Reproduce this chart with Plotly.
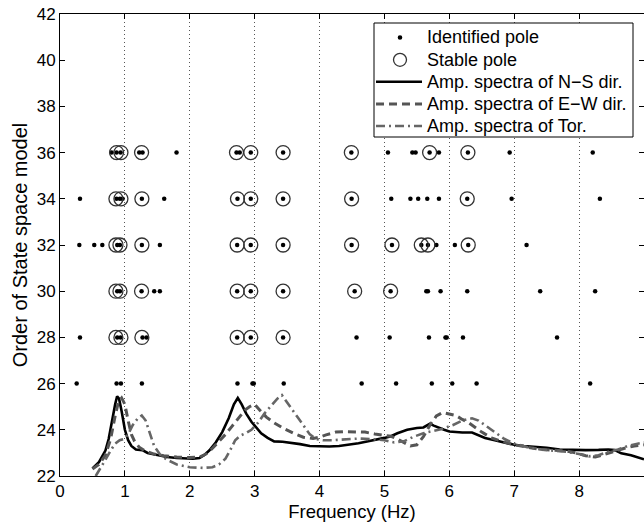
import plotly.graph_objects as go

# ---- Identified poles (frequency in Hz) per state-space model order ----
model_orders = [26, 28, 30, 32, 34, 36]

identified_26 = [0.257, 0.872, 0.939, 1.262, 2.735, 2.966, 2.986, 3.448, 4.649, 5.18, 5.73, 6.045, 6.42, 8.17]
identified_28 = [0.308, 0.882, 0.934, 1.272, 1.334, 2.73, 2.94, 3.438, 4.57, 5.08, 5.686, 5.94, 5.96, 6.21, 7.66]
identified_30 = [0.882, 0.924, 1.257, 1.452, 1.539, 2.73, 2.94, 3.438, 4.541, 5.095, 5.645, 5.67, 5.865, 6.276, 7.40, 8.247]
identified_32 = [0.298, 0.528, 0.652, 0.882, 0.924, 1.262, 1.539, 2.73, 2.94, 3.438, 4.494, 5.116, 5.568, 5.67, 5.80, 6.085, 6.291, 7.19]
identified_34 = [0.308, 0.872, 0.924, 0.965, 1.262, 1.606, 2.735, 2.94, 3.438, 4.494, 5.105, 5.40, 5.52, 5.66, 5.84, 6.276, 6.96, 8.32]
identified_36 = [0.795, 0.872, 0.934, 1.221, 1.272, 1.796, 2.72, 2.77, 2.94, 3.438, 4.49, 5.054, 5.43, 5.48, 5.696, 5.84, 6.286, 6.93, 8.21]

# ---- Stable poles ----
stable_26 = []
stable_28 = [0.862, 0.939, 1.262, 2.73, 2.94, 3.438]
stable_30 = [0.862, 0.924, 1.257, 2.73, 2.94, 3.438, 4.541, 5.095]
stable_32 = [0.862, 0.924, 1.262, 2.73, 2.94, 3.438, 4.494, 5.116, 5.568, 5.67, 6.291]
stable_34 = [0.862, 0.939, 1.262, 2.735, 2.94, 3.438, 4.494, 6.276]
stable_36 = [0.872, 0.939, 1.257, 2.72, 2.94, 3.438, 4.49, 5.696, 6.286]

identified_rows = [identified_26, identified_28, identified_30, identified_32, identified_34, identified_36]
stable_rows = [stable_26, stable_28, stable_30, stable_32, stable_34, stable_36]

# ---- Scaled amplitude spectra (drawn in the model-order axis units) ----
ns_freq = [0.5, 0.55, 0.6, 0.65, 0.7, 0.75, 0.8, 0.85, 0.88, 0.91, 0.95, 1.0, 1.05, 1.1, 1.17, 1.27, 1.35,
           1.43, 1.55, 1.65, 1.8, 1.9, 2.05, 2.15, 2.22, 2.3, 2.4, 2.5, 2.6, 2.68, 2.74, 2.8, 2.87, 2.95,
           3.02, 3.1, 3.2, 3.3, 3.43, 3.55, 3.7, 3.85, 4.0, 4.15, 4.3, 4.45, 4.6, 4.75, 4.9, 5.0, 5.1,
           5.2, 5.35, 5.5, 5.6, 5.7, 5.76, 5.84, 5.92, 6.0, 6.1, 6.2, 6.35, 6.45, 6.55, 6.7, 6.85, 7.0,
           7.15, 7.3, 7.5, 7.7, 7.9, 8.1, 8.3, 8.45, 8.55, 8.65, 8.8, 8.9, 9.0]
ns_amp = [22.33, 22.45, 22.6, 22.85, 23.1, 23.6, 24.4, 25.1, 25.45, 25.35, 24.8, 24.0, 23.55, 23.3, 23.15,
          23.12, 23.0, 22.95, 22.86, 22.82, 22.78, 22.76, 22.75, 22.78, 22.9, 23.1, 23.45, 23.9, 24.5,
          25.1, 25.38, 25.1, 24.7, 24.35, 24.1, 23.85, 23.65, 23.5, 23.48, 23.45, 23.38, 23.3, 23.28,
          23.28, 23.3, 23.35, 23.42, 23.5, 23.58, 23.65, 23.72, 23.85, 24.0, 24.08, 24.1, 24.26, 24.18,
          24.08, 24.0, 23.93, 23.9, 23.88, 23.88, 23.75, 23.65, 23.55, 23.45, 23.35, 23.3, 23.27, 23.22,
          23.15, 23.12, 23.12, 23.13, 23.15, 23.12, 22.98, 22.9, 22.82, 22.72]

ew_freq = [0.5, 0.6, 0.7, 0.78, 0.85, 0.9, 0.95, 1.0, 1.05, 1.1, 1.15, 1.22, 1.3, 1.45, 1.6, 1.8, 2.0,
           2.15, 2.25, 2.35, 2.45, 2.55, 2.65, 2.75, 2.85, 2.92, 3.0, 3.08, 3.18, 3.3, 3.45, 3.6, 3.75,
           3.9, 4.0, 4.1, 4.25, 4.4, 4.55, 4.7, 4.85, 5.0, 5.1, 5.2, 5.3, 5.4, 5.5, 5.6, 5.7, 5.8, 5.9,
           6.0, 6.1, 6.2, 6.3, 6.4, 6.5, 6.65, 6.8, 7.0, 7.2, 7.4, 7.6, 7.8, 7.95, 8.1, 8.25, 8.4, 8.55,
           8.7, 8.85, 9.0]
ew_amp = [22.3, 22.5, 22.9, 23.6, 24.6, 25.2, 25.38, 25.1, 24.4, 23.8, 23.5, 23.25, 23.1, 22.95, 22.88,
          22.82, 22.8, 22.82, 22.95, 23.2, 23.5, 23.8, 24.15, 24.5, 24.85, 25.0, 25.1, 24.85, 24.55, 24.3,
          24.05, 23.85, 23.68, 23.62, 23.68, 23.78, 23.9, 23.92, 23.92, 23.9, 23.82, 23.75, 23.72, 23.6,
          23.45, 23.3, 23.35, 23.7, 24.2, 24.6, 24.75, 24.7, 24.62, 24.45, 24.3, 24.1, 23.9, 23.65, 23.5,
          23.35, 23.25, 23.15, 23.12, 23.08, 23.0, 22.88, 22.82, 22.95, 23.1, 23.2, 23.3, 23.35]

tor_freq = [0.55, 0.62, 0.7, 0.78, 0.85, 0.92, 0.98, 1.05, 1.12, 1.2, 1.26, 1.32, 1.38, 1.45, 1.55, 1.65,
            1.8, 2.0, 2.2, 2.35, 2.45, 2.55, 2.62, 2.7, 2.78, 2.86, 2.95, 3.05, 3.15, 3.25, 3.35, 3.42,
            3.5, 3.58, 3.66, 3.75, 3.85, 3.95, 4.05, 4.2, 4.4, 4.6, 4.8, 5.0, 5.15, 5.3, 5.45, 5.6, 5.75,
            5.9, 6.05, 6.2, 6.35, 6.45, 6.55, 6.7, 6.85, 7.0, 7.2, 7.4, 7.6, 7.8, 8.0, 8.15, 8.3, 8.45,
            8.6, 8.75, 8.9, 9.0]
tor_amp = [22.0, 22.3, 22.7, 23.1, 23.4, 23.55, 23.6, 23.8, 24.2, 24.5, 24.62, 24.4, 23.9, 23.3, 22.9,
           22.7, 22.5, 22.38, 22.35, 22.38, 22.5, 22.75, 23.1, 23.55, 23.75, 23.85, 24.0, 24.3, 24.7,
           25.05, 25.35, 25.5, 25.2, 24.85, 24.55, 24.2, 23.8, 23.6, 23.55, 23.55, 23.6, 23.62, 23.6,
           23.55, 23.45, 23.5, 23.7, 23.85, 23.95, 24.05, 24.2, 24.4, 24.5, 24.4, 24.2, 23.9, 23.6, 23.4,
           23.25, 23.15, 23.1, 23.05, 22.95, 22.85, 22.9, 23.05, 23.15, 23.3, 23.4, 23.45]

x_ticks = [0, 1, 2, 3, 4, 5, 6, 7, 8, 9]
y_ticks = [22, 24, 26, 28, 30, 32, 34, 36, 38, 40, 42]

legend_labels = ["Identified pole", "Stable pole", "Amp. spectra of N\u2212S dir.",
                 "Amp. spectra of E\u2212W dir.", "Amp. spectra of Tor."]

# Flatten pole lists into x/y pairs
id_x, id_y = [], []
for order, row in zip(model_orders, identified_rows):
    id_x += row
    id_y += [order] * len(row)
st_x, st_y = [], []
for order, row in zip(model_orders, stable_rows):
    st_x += row
    st_y += [order] * len(row)

# Line styles shared by the traces and the legend samples
ns_line = dict(color="black", width=2.6)
ew_line = dict(color="#555555", width=3, dash="8px,5px")
tor_line = dict(color="#666666", width=2.6, dash="9px,4px,2px,4px")

fig = go.Figure()
fig.add_trace(go.Scatter(x=id_x, y=id_y, mode="markers", name=legend_labels[0],
                         marker=dict(symbol="circle", size=4.5, color="black", line=dict(width=0))))
fig.add_trace(go.Scatter(x=st_x, y=st_y, mode="markers", name=legend_labels[1],
                         marker=dict(symbol="circle-open", size=14, color="#333333", line=dict(width=1.3))))
fig.add_trace(go.Scatter(x=ns_freq, y=ns_amp, mode="lines", name=legend_labels[2], line=ns_line))
fig.add_trace(go.Scatter(x=ew_freq, y=ew_amp, mode="lines", name=legend_labels[3], line=ew_line))
fig.add_trace(go.Scatter(x=tor_freq, y=tor_amp, mode="lines", name=legend_labels[4], line=tor_line))

FONT = "Liberation Sans, Arial, sans-serif"
tick_font = dict(family=FONT, size=17, color="black")

# ---- Boxed legend in the upper right, laid out in pixels of the plot area ----
W, H = 644, 522
ML, MR, MT, MB = 60, 0, 14, 46
PW, PH = W - ML - MR, H - MT - MB


def px(x):
    return (x - ML) / PW


def py(y):
    return 1 - (y - MT) / PH


box_l, box_r, box_t, box_b = 374, 633, 23, 137
row_y = [37.5, 59.8, 81.8, 104, 126]
sample_l, sample_r, sample_c = 376, 422, 400
text_x = 425

shapes = [dict(type="rect", xref="paper", yref="paper",
               x0=px(box_l), x1=px(box_r), y0=py(box_b), y1=py(box_t),
               line=dict(color="black", width=1), fillcolor="white", layer="above")]
# dot and open-circle samples
for r, fill, lc, lw in [(2.3, "black", "black", 0), (6.5, "rgba(0,0,0,0)", "#333333", 1.3)]:
    i = 0 if r < 3 else 1
    shapes.append(dict(type="circle", xref="paper", yref="paper",
                       xsizemode="pixel", ysizemode="pixel",
                       xanchor=px(sample_c), yanchor=py(row_y[i]),
                       x0=-r, x1=r, y0=-r, y1=r,
                       fillcolor=fill, line=dict(color=lc, width=lw), layer="above"))
# line samples
for i, ln in zip([2, 3, 4], [ns_line, ew_line, tor_line]):
    shapes.append(dict(type="line", xref="paper", yref="paper",
                       x0=px(sample_l), x1=px(sample_r), y0=py(row_y[i]), y1=py(row_y[i]),
                       line=ln, layer="above"))

annotations = [dict(text=lab, xref="paper", yref="paper", x=px(text_x), y=py(yy),
                    xanchor="left", yanchor="middle", showarrow=False,
                    font=dict(family=FONT, size=18, color="black"))
               for lab, yy in zip(legend_labels, row_y)]

fig.update_layout(
    width=W, height=H,
    margin=dict(l=ML, r=MR, t=MT, b=MB),
    paper_bgcolor="white", plot_bgcolor="white",
    font=tick_font,
    showlegend=False,
    shapes=shapes,
    annotations=annotations,
    xaxis=dict(
        range=[0, 9], tickvals=x_ticks, ticktext=[str(t) for t in x_ticks],
        showline=True, linecolor="black", linewidth=1, mirror="ticks",
        ticks="inside", ticklen=5, tickcolor="black",
        showgrid=True, gridcolor="#555555", gridwidth=1, griddash="1px,3px",
        zeroline=False, tickfont=tick_font,
        title=dict(text="Frequency (Hz)", font=dict(family=FONT, size=18.5, color="black"), standoff=0),
    ),
    yaxis=dict(
        range=[22, 42], tickvals=y_ticks, ticktext=[str(t) for t in y_ticks],
        showline=True, linecolor="black", linewidth=1, mirror="ticks",
        ticks="inside", ticklen=5, tickcolor="black",
        showgrid=False, zeroline=False, tickfont=tick_font,
        title=dict(text="Order of State space model", font=dict(family=FONT, size=20, color="black"), standoff=3),
    ),
)

fig.write_html("out.html")
